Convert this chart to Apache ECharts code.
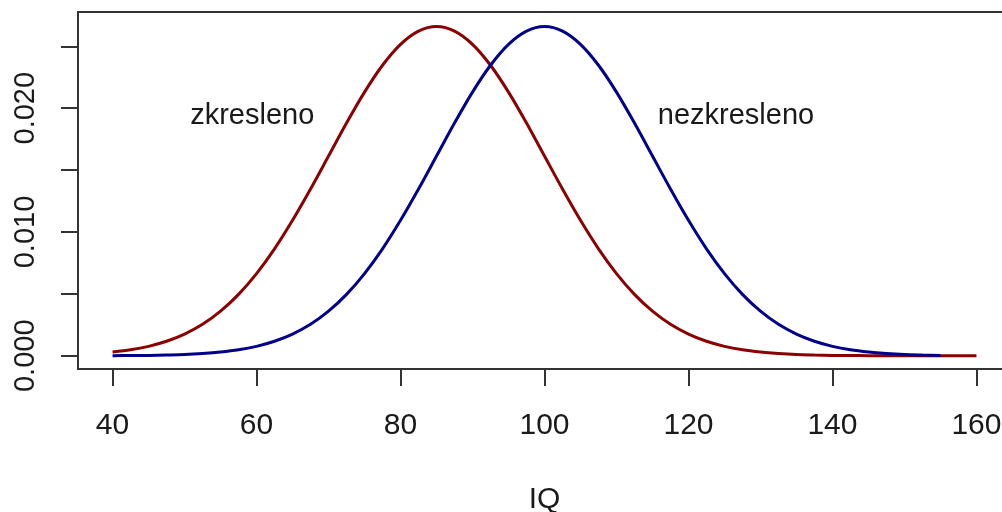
<!DOCTYPE html>
<html>
<head>
<meta charset="utf-8">
<script src="https://cdn.jsdelivr.net/npm/echarts@6/dist/echarts.min.js"></script>
<style>
html,body{margin:0;padding:0;background:#fff;}
#c{width:1002px;height:512px;}
</style>
</head>
<body>
<div id="c"></div>
<script>
// --- data ---
var redIQ = [40,42.5,45,47.5,50,52.5,55,57.5,60,62.5,65,67.5,70,72.5,75,77.5,80,82.5,85,87.5,90,92.5,95,97.5,100,102.5,105,107.5,110,112.5,115,117.5,120,122.5,125,127.5,130,132.5,135,137.5,140,142.5,145,147.5,150,152.5,155,157.5,160];
var redDensity = [0.00030,0.00048,0.00076,0.00117,0.00175,0.00254,0.00360,0.00496,0.00664,0.00864,0.01094,0.01347,0.01613,0.01880,0.02130,0.02347,0.02516,0.02623,0.02660,0.02623,0.02516,0.02347,0.02130,0.01880,0.01613,0.01347,0.01094,0.00864,0.00664,0.00496,0.00360,0.00254,0.00175,0.00117,0.00076,0.00048,0.00030,0.00018,0.00010,0.00006,0.00003,0.00002,0.00001,0.00000,0.00000,0.00000,0.00000,0.00000,0.00000];
var blueIQ = [40,42.5,45,47.5,50,52.5,55,57.5,60,62.5,65,67.5,70,72.5,75,77.5,80,82.5,85,87.5,90,92.5,95,97.5,100,102.5,105,107.5,110,112.5,115,117.5,120,122.5,125,127.5,130,132.5,135,137.5,140,142.5,145,147.5,150,152.5,155];
var blueDensity = [0.00001,0.00002,0.00003,0.00006,0.00010,0.00018,0.00030,0.00048,0.00076,0.00117,0.00175,0.00254,0.00360,0.00496,0.00664,0.00864,0.01094,0.01347,0.01613,0.01880,0.02130,0.02347,0.02516,0.02623,0.02660,0.02623,0.02516,0.02347,0.02130,0.01880,0.01613,0.01347,0.01094,0.00864,0.00664,0.00496,0.00360,0.00254,0.00175,0.00117,0.00076,0.00048,0.00030,0.00018,0.00010,0.00006,0.00003];
var xTicks = [40,60,80,100,120,140,160];
var yTicks = [0,0.005,0.010,0.015,0.020,0.025];
var yLabels = [0,0.010,0.020];
var noteText = ['zkresleno','nezkresleno'];
var noteIQ = [59.4,126.6];
var noteDensity = [0.0194,0.0194];
var xName = 'IQ';

function pairs(xs, ys){ return xs.map(function(x,i){ return [x, ys[i]]; }); }

var FONT = '"Liberation Sans", Arial, sans-serif';
var TXT = '#1a1a1a';
var chart = echarts.init(document.getElementById('c'), null, {renderer:'canvas'});
chart.setOption({
  animation:false,
  backgroundColor:'#fff',
  grid:{left:78, top:12, right:-9, bottom:143, containLabel:false, outerBoundsMode:'none',
        show:true, borderColor:'#333', borderWidth:2, backgroundColor:'transparent'},
  xAxis:{
    type:'value', min:35.2, max:164.8,
    name:xName, nameLocation:'middle', nameGap:116,
    nameTextStyle:{fontFamily:FONT, fontSize:30, color:TXT},
    axisLine:{show:false, onZero:false},
    splitLine:{show:false},
    axisTick:{show:true, customValues:xTicks, length:17, lineStyle:{color:'#333', width:2}},
    axisLabel:{customValues:xTicks, margin:42, fontFamily:FONT, fontSize:30, color:TXT}
  },
  yAxis:{
    type:'value', min:-0.00107, max:0.02777,
    axisLine:{show:false, onZero:false},
    splitLine:{show:false},
    axisTick:{show:true, customValues:yTicks, length:17, lineStyle:{color:'#333', width:2}},
    axisLabel:{customValues:yLabels, rotate:90, margin:38, fontFamily:FONT, fontSize:29, color:TXT,
      formatter:function(v){ return Number(v).toFixed(3); }}
  },
  series:[
    {type:'line', name:'zkresleno', data:pairs(redIQ, redDensity), showSymbol:false, smooth:0.3,
     lineStyle:{color:'#8B0000', width:3}, itemStyle:{color:'#8B0000'}, z:2},
    {type:'line', name:'nezkresleno', data:pairs(blueIQ, blueDensity), showSymbol:false, smooth:0.3,
     lineStyle:{color:'#00008B', width:3}, itemStyle:{color:'#00008B'}, z:3},
    {type:'scatter', symbolSize:1, silent:true, itemStyle:{color:'rgba(0,0,0,0)'},
     data:noteText.map(function(t,i){ return {name:t, value:[noteIQ[i], noteDensity[i]]}; }),
     label:{show:true, position:'inside', formatter:'{b}', fontFamily:FONT, fontSize:29, color:'#1a1a1a', opacity:1, textBorderWidth:0}, z:4}
  ]
});
</script>
</body>
</html>
